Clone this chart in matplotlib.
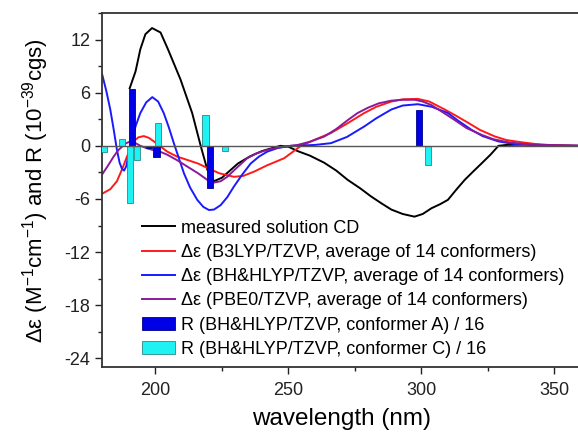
"""Recreation of a CD spectrum comparison chart (measured vs. computed)."""

import matplotlib
matplotlib.use("Agg")
import matplotlib.pyplot as plt
from matplotlib.ticker import MultipleLocator

plt.rcParams["font.family"] = ["Liberation Sans", "DejaVu Sans"]
plt.rcParams["mathtext.fontset"] = "custom"
plt.rcParams["mathtext.rm"] = "Liberation Sans"
plt.rcParams["mathtext.it"] = "Liberation Sans:italic"
plt.rcParams["axes.unicode_minus"] = False

# measured solution CD
meas_wl = [190.3, 192.5, 194.3, 196.2, 198.7, 201.9, 204.7, 209.4, 213.8, 217,
           219.5, 222, 225, 228, 231, 235.5, 240, 243.4, 247, 250, 253.5, 258,
           263.4, 268, 272.3, 277, 281, 285, 288.7, 293, 297.4, 300.5, 303.8,
           307, 310, 313, 316.3, 319.5, 322.6, 326, 329, 332, 340, 350, 360]
meas_de = [6.5, 8.4, 10.9, 12.6, 13.3, 12.8, 10.9, 7.5, 3.7, 0.0,
           -2.7, -4.0, -3.6, -2.8, -2.0, -1.2, -0.6, -0.3, 0.0, -0.1, -0.6, -1.1,
           -1.9, -2.8, -3.85, -4.8, -5.7, -6.5, -7.2, -7.7, -8.0, -7.7, -7.05,
           -6.6, -6.1, -5.0, -3.85, -2.9, -2.0, -1.0, 0.0, 0.1, 0.15, 0.05, 0.0]

# B3LYP/TZVP average
b3_wl = [180, 183, 185.5, 187.5, 189.3, 191.8, 193.5, 195.6, 197.5, 199.4, 202,
         204.4, 208, 212, 216, 219.5, 224, 229.5, 233, 237.2, 242, 248.4, 254.7,
         260, 266, 272, 278.5, 283, 288.7, 293, 298.7, 303, 308.8, 313, 317.6,
         322, 327.7, 332, 337.7, 343, 347.8, 355, 360]
b3_de = [-5.4, -4.9, -4.0, -2.6, -1.2, 0.5, 0.95, 1.1, 0.9, 0.5, -0.1,
         -0.65, -1.2, -1.6, -2.0, -2.5, -3.1, -3.5, -3.4, -2.9, -2.2, -1.4, 0.0,
         0.7, 1.45, 2.5, 3.7, 4.4, 5.0, 5.25, 5.3, 5.0, 4.1, 3.4, 2.6,
         1.8, 1.05, 0.65, 0.4, 0.2, 0.1, 0.03, 0.0]

# BH&HLYP/TZVP average
bh_wl = [180, 181.5, 183, 184.3, 185.5, 186.5, 187.4, 188.2, 189, 190.6, 192.5,
         194.3, 196.5, 198.8, 201, 203.1, 205, 206.9, 208.8, 210.7, 213, 215.7,
         218, 220.1, 222, 224.5, 227, 229.5, 232.5, 235.8, 239, 242.1, 246,
         250.9, 256, 260, 266, 272, 278.6, 283, 288.7, 293, 298.7, 304, 310,
         314, 318.9, 323, 328.9, 335, 341.5, 350, 360]
bh_de = [8.0, 6.2, 4.1, 1.8, -0.45, -1.9, -2.6, -2.8, -2.3, 0.0, 2.2,
         3.7, 4.9, 5.5, 5.0, 3.7, 2.1, 0.3, -1.4, -3.1, -4.7, -6.1,
         -6.9, -7.25, -7.2, -6.7, -5.8, -4.6, -3.3, -2.0, -1.2, -0.65, -0.25,
         0.0, 0.05, 0.1, 0.3, 1.0, 2.2, 3.1, 4.1, 4.55, 4.7, 4.4, 3.7,
         2.8, 1.8, 1.1, 0.5, 0.2, 0.1, 0.02, 0.0]

# PBE0/TZVP average
pbe_wl = [180, 182, 184.3, 186, 187.4, 189, 190.6, 192.5, 194.3, 197, 199.4,
          202, 204.4, 208, 212, 216, 219.5, 222, 224.5, 227, 230.5, 234.5, 238,
          242.1, 246, 250.9, 253.5, 258, 263.5, 268, 272.3, 276, 279.9, 284,
          288.7, 293, 297.5, 300.5, 303.8, 308, 312.6, 317, 322.6, 327, 332.7,
          340, 350, 360]
pbe_de = [-3.2, -2.3, -1.2, -0.5, -0.1, 0.3, 0.5, 0.3, 0.0, -0.3, -0.5,
          -0.7, -1.0, -1.6, -2.35, -3.1, -3.85, -4.15, -4.0, -3.5, -2.5, -1.4, -0.85,
          -0.45, -0.2, 0.0, 0.1, 0.45, 1.05, 1.9, 2.9, 3.7, 4.3, 4.8,
          5.1, 5.2, 5.2, 5.0, 4.6, 3.8, 2.9, 2.0, 1.25, 0.75, 0.4,
          0.15, 0.04, 0.0]

# rotatory strengths / 16
confA_wl = [191.2, 197.5, 200.4, 220.4, 299.0]
confA_r = [6.4, -0.3, -1.3, -4.8, 4.0]
confC_wl = [180.5, 187.4, 190.4, 193.1, 200.9, 218.8, 226.2, 302.6]
confC_r = [-0.7, 0.75, -6.5, -1.6, 2.6, 3.5, -0.6, -2.2]

fig = plt.figure(figsize=(5.78, 4.33), dpi=100)
ax = fig.add_axes([0.177, 0.152, 0.828, 0.818])

ax.plot(meas_wl, meas_de, color="black", lw=1.4, label="measured solution CD", zorder=2)
ax.plot(b3_wl, b3_de, color="#ff1a1a", lw=1.4,
        label="Δε (B3LYP/TZVP, average of 14 conformers)", zorder=2)
ax.plot(bh_wl, bh_de, color="#1a1aff", lw=1.4,
        label="Δε (BH&HLYP/TZVP, average of 14 conformers)", zorder=2)
ax.plot(pbe_wl, pbe_de, color="#8a1a9a", lw=1.4,
        label="Δε (PBE0/TZVP, average of 14 conformers)", zorder=2)
ax.bar(confA_wl, confA_r, width=2.4, color="#0000e6", edgecolor="#00008a",
       lw=0.6, label="R (BH&HLYP/TZVP, conformer A) / 16", zorder=3)
ax.bar(confC_wl, confC_r, width=2.4, color="#1ff2f2", edgecolor="#2a8a8a",
       lw=0.6, label="R (BH&HLYP/TZVP, conformer C) / 16", zorder=3)
ax.axhline(0, color="#555555", lw=1.0, zorder=4)

ax.set_xlim(180, 360)
ax.set_ylim(-25, 15)
ax.set_yticks([-24, -18, -12, -6, 0, 6, 12])
ax.xaxis.set_major_locator(MultipleLocator(50))
ax.xaxis.set_minor_locator(MultipleLocator(25))
ax.yaxis.set_minor_locator(MultipleLocator(3))
ax.tick_params(which="major", direction="out", length=5, width=1, labelsize=13,
               colors="#222222")
ax.tick_params(axis="x", which="major", pad=6)
ax.tick_params(which="minor", direction="out", length=3, width=1, colors="#222222")
for s in ax.spines.values():
    s.set_linewidth(1.3)
    s.set_color("#333333")

ax.set_xlabel("wavelength (nm)", fontsize=17.5, labelpad=6)
ax.set_ylabel("Δε (M$^{-1}$cm$^{-1}$) and R (10$^{-39}$cgs)", fontsize=16, labelpad=10)

ax.legend(loc="upper left", bbox_to_anchor=(0.068, 0.437), frameon=False,
          fontsize=13, handlelength=1.85, handletextpad=0.3, labelspacing=0.4,
          borderaxespad=0)

fig.savefig("out.png", dpi=100)
